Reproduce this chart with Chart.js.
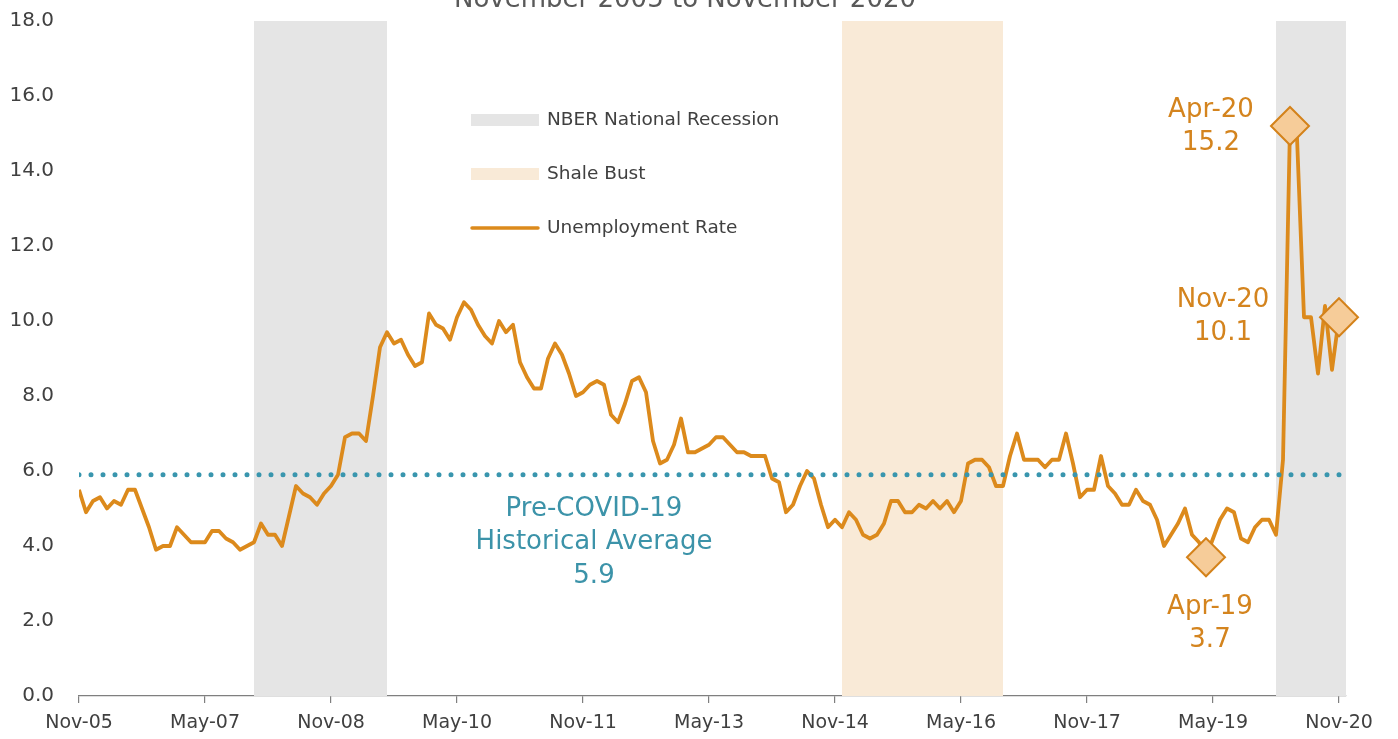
<!DOCTYPE html>
<html>
<head>
<meta charset="utf-8">
<script src="https://cdn.jsdelivr.net/npm/chart.js@4/dist/chart.umd.min.js"></script>
<style>
  html, body { margin: 0; padding: 0; background: #fff; }
  #chart { display: block; }
</style>
</head>
<body>
<canvas id="chart" width="1398" height="739"></canvas>
<script>
// Monthly unemployment rate, Nov-05 .. Nov-20 (index 0 = Nov-05)
const tickLabels = ['Nov-05', 'May-07', 'Nov-08', 'May-10', 'Nov-11', 'May-13',
  'Nov-14', 'May-16', 'Nov-17', 'May-19', 'Nov-20'];
const tickStep = 18;
const unemployment = [
  5.5, 4.9, 5.2, 5.3, 5.0, 5.2, 5.1, 5.5, 5.5, 5.0, 4.5, 3.9,
  4.0, 4.0, 4.5, 4.3, 4.1, 4.1, 4.1, 4.4, 4.4, 4.2, 4.1, 3.9,
  4.0, 4.1, 4.6, 4.3, 4.3, 4.0, 4.8, 5.6, 5.4, 5.3, 5.1, 5.4,
  5.6, 5.9, 6.9, 7.0, 7.0, 6.8, 8.0, 9.3, 9.7, 9.4, 9.5, 9.1,
  8.8, 8.9, 10.2, 9.9, 9.8, 9.5, 10.1, 10.5, 10.3, 9.9, 9.6, 9.4,
  10.0, 9.7, 9.9, 8.9, 8.5, 8.2, 8.2, 9.0, 9.4, 9.1, 8.6, 8.0,
  8.1, 8.3, 8.4, 8.3, 7.5, 7.3, 7.8, 8.4, 8.5, 8.1, 6.8, 6.2,
  6.3, 6.7, 7.4, 6.5, 6.5, 6.6, 6.7, 6.9, 6.9, 6.7, 6.5, 6.5,
  6.4, 6.4, 6.4, 5.8, 5.7, 4.9, 5.1, 5.6, 6.0, 5.8, 5.1, 4.5,
  4.7, 4.5, 4.9, 4.7, 4.3, 4.2, 4.3, 4.6, 5.2, 5.2, 4.9, 4.9,
  5.1, 5.0, 5.2, 5.0, 5.2, 4.9, 5.2, 6.2, 6.3, 6.3, 6.1, 5.6,
  5.6, 6.4, 7.0, 6.3, 6.3, 6.3, 6.1, 6.3, 6.3, 7.0, 6.2, 5.3,
  5.5, 5.5, 6.4, 5.6, 5.4, 5.1, 5.1, 5.5, 5.2, 5.1, 4.7, 4.0,
  4.3, 4.6, 5.0, 4.3, 4.1, 3.7, 4.2, 4.7, 5.0, 4.9, 4.2, 4.1,
  4.5, 4.7, 4.7, 4.3, 6.3, 15.2, 14.9, 10.1, 10.1, 8.6, 10.4, 8.7,
  10.1
];
const preCovidAverage = 5.9;
const recessions = [[25, 44], [171, 181]];
const shaleBust = [[109, 132]];
const highlightMonths = [161, 173, 180];
const highlightLabels = ['Apr-19', 'Apr-20', 'Nov-20'];
const averageLabel = ['Pre-COVID-19', 'Historical Average'];
const legendLabels = ['NBER National Recession', 'Shale Bust', 'Unemployment Rate'];
const titleText = 'November 2005 to November 2020';

const ORANGE = '#dc8a1c';
const ORANGE_TEXT = '#d4841e';
const TEAL = '#3996ae';
const TEAL_TEXT = '#3c93a9';
const GRAY_BAND = '#e5e5e5';
const SHALE_BAND = '#f9ead7';
const TEXT = '#404040';
const FONT = 'DejaVu Sans';

// text offsets (px) of each highlight label from its marker
const labelOffsets = { 'Apr-19': [4, 50], 'Apr-20': [-79, -16], 'Nov-20': [-116, -17] };

const bandsPlugin = {
  id: 'bands',
  beforeDatasetsDraw(chart) {
    const { ctx, chartArea: a, scales: { x } } = chart;
    ctx.save();
    const fillBand = (list, color) => {
      ctx.fillStyle = color;
      list.forEach(([s, e]) => {
        const x0 = x.getPixelForValue(s);
        const x1 = Math.min(x.getPixelForValue(e), a.right);
        ctx.fillRect(x0, a.top, x1 - x0, a.bottom - a.top);
      });
    };
    fillBand(recessions, GRAY_BAND);
    fillBand(shaleBust, SHALE_BAND);
    ctx.restore();
  }
};

const textPlugin = {
  id: 'texts',
  afterDraw(chart) {
    const { ctx, scales: { x, y } } = chart;
    ctx.save();
    ctx.textAlign = 'center';

    // title (cut off at the top edge)
    ctx.fillStyle = '#595959';
    ctx.font = `26px "${FONT}"`;
    ctx.textBaseline = 'alphabetic';
    ctx.fillText(titleText, 685, 7);
    ctx.textBaseline = 'middle';

    // highlight labels
    ctx.fillStyle = ORANGE_TEXT;
    highlightMonths.forEach((m, k) => {
      const lbl = highlightLabels[k];
      const [dx, dy] = labelOffsets[lbl];
      const px = x.getPixelForValue(m) + dx;
      const py = y.getPixelForValue(unemployment[m]) + dy;
      ctx.fillText(lbl, px, py);
      ctx.fillText(unemployment[m].toFixed(1), px, py + 33);
    });

    // average label
    ctx.fillStyle = TEAL_TEXT;
    const ay = y.getPixelForValue(preCovidAverage);
    const lines = averageLabel.concat(preCovidAverage.toFixed(1));
    lines.forEach((t, k) => ctx.fillText(t, 594, ay + 34 + k * 33.5));

    // legend
    ctx.textAlign = 'left';
    ctx.font = `18.5px "${FONT}"`;
    const lx = 471, lw = 68, rows = [120, 174, 228];
    ctx.fillStyle = GRAY_BAND;
    ctx.fillRect(lx, rows[0] - 6, lw, 12);
    ctx.fillStyle = SHALE_BAND;
    ctx.fillRect(lx, rows[1] - 6, lw, 12);
    ctx.strokeStyle = ORANGE;
    ctx.lineWidth = 3.5;
    ctx.lineCap = 'round';
    ctx.beginPath();
    ctx.moveTo(lx + 1, rows[2]);
    ctx.lineTo(lx + lw - 1, rows[2]);
    ctx.stroke();
    ctx.fillStyle = TEXT;
    legendLabels.forEach((t, k) => ctx.fillText(t, 547, rows[k]));
    ctx.restore();
  }
};

Chart.defaults.font.family = FONT;

new Chart(document.getElementById('chart'), {
  type: 'line',
  data: {
    datasets: [
      {
        label: 'Highlights',
        data: highlightMonths.map(m => ({ x: m, y: unemployment[m] })),
        showLine: false,
        pointStyle: 'rectRot',
        pointRadius: 19,
        pointBackgroundColor: '#f6cc99',
        pointBorderColor: '#d4821a',
        pointBorderWidth: 2,
        clip: false,
        order: 0
      },
      {
        label: 'Pre-COVID-19 Average',
        data: [{ x: 0, y: preCovidAverage }, { x: 180.5, y: preCovidAverage }],
        borderColor: TEAL,
        borderWidth: 5,
        borderDash: [0, 12],
        borderCapStyle: 'round',
        pointRadius: 0,
        order: 1
      },
      {
        label: 'Unemployment Rate',
        data: unemployment.map((v, i) => ({ x: i, y: v })),
        borderColor: ORANGE,
        borderWidth: 3.8,
        pointRadius: 0,
        tension: 0,
        borderJoinStyle: 'round',
        order: 2
      }
    ]
  },
  options: {
    responsive: false,
    animation: false,
    devicePixelRatio: 1,
    layout: { autoPadding: false, padding: { top: 21, right: 52, left: 0, bottom: 0 } },
    plugins: { legend: { display: false }, tooltip: { enabled: false } },
    scales: {
      x: {
        type: 'linear',
        min: 0,
        max: 181,
        afterBuildTicks: axis => {
          axis.ticks = tickLabels.map((_, k) => ({ value: k * tickStep }));
        },
        afterFit: scale => { scale.height = 43; },
        grid: { drawOnChartArea: false, drawTicks: true, tickLength: 7, color: '#7f7f7f', lineWidth: 1.2 },
        border: { display: true, color: '#7f7f7f', width: 1.2 },
        ticks: {
          autoSkip: false,
          maxRotation: 0,
          padding: 9,
          color: TEXT,
          font: { size: 19 },
          callback: (v, i) => tickLabels[i]
        }
      },
      y: {
        min: 0,
        max: 18,
        afterFit: scale => {
          scale.width = 79;
          scale.paddingTop = 0;
          scale.paddingBottom = 0;
        },
        grid: { display: false, drawTicks: false },
        border: { display: false },
        ticks: {
          stepSize: 2,
          padding: 25,
          color: TEXT,
          font: { size: 20 },
          callback: v => v.toFixed(1)
        }
      }
    }
  },
  plugins: [bandsPlugin, textPlugin]
});
</script>
</body>
</html>
